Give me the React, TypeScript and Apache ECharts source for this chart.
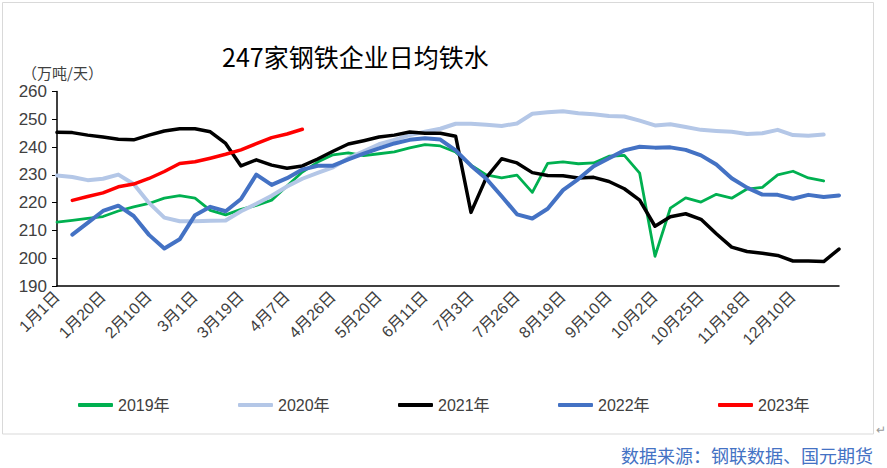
import React, { useEffect, useRef } from "react";
import * as echarts from "echarts";

const categories = [
  "1月1日", "1月8日", "1月14日", "1月20日", "1月27日", "2月3日", "2月10日", "2月17日", "2月24日", "3月1日",
  "3月7日", "3月13日", "3月19日", "3月25日", "4月1日", "4月7日", "4月14日", "4月20日", "4月26日", "5月6日",
  "5月13日", "5月20日", "5月27日", "6月3日", "6月11日", "6月18日", "6月25日", "7月3日", "7月10日", "7月17日",
  "7月26日", "8月2日", "8月11日", "8月19日", "8月26日", "9月3日", "9月10日", "9月17日", "9月24日", "10月2日",
  "10月11日", "10月18日", "10月25日", "11月2日", "11月11日", "11月18日", "11月25日", "12月3日", "12月10日", "12月17日",
  "12月24日", "12月31日",
];

const y2019 = [
  213, 213.6, 214.3, 215, 217, 218.5, 219.7, 221.6, 222.5, 221.6,
  217.2, 215.6, 217.6, 219, 220.9, 226, 231, 234.6, 237.2, 237.9,
  236.9, 237.6, 238.3, 239.7, 240.9, 240.4, 238.2, 233.5, 230, 228.9,
  229.9, 223.7, 234.1, 234.7, 234, 234.3, 236.7, 237, 230.6, 200.7,
  218, 221.7, 220.2, 223, 221.6, 224.9, 225.5, 230, 231.3, 228.9,
  227.8, null,
];

const y2020 = [
  229.8, 229.2, 228.1, 228.6, 230.1, 226.7, 219.9, 214.6, 213.3, 213.3,
  213.5, 213.6, 216.9, 219.6, 222.5, 225.8, 228.6, 230.7, 232.7, 236,
  238.5, 241, 242.6, 244.3, 245.5, 246.6, 248.4, 248.4, 248, 247.6,
  248.5, 252, 252.5, 252.9, 252.2, 251.8, 251.2, 251, 249.5, 247.8,
  248.2, 247.2, 246.2, 245.8, 245.5, 244.7, 245, 246.2, 244.3, 244.1,
  244.5, null,
];

const y2021 = [
  245.3, 245.2, 244.3, 243.6, 242.8, 242.6, 244.3, 245.8, 246.6, 246.6,
  245.5, 241.3, 233.2, 235.4, 233.5, 232.4, 233.2, 235.7, 238.5, 241.1,
  242.3, 243.6, 244.3, 245.4, 245, 245, 243.9, 216.5, 229, 235.8,
  234.3, 230.8, 229.8, 229.7, 228.9, 229.1, 227.6, 225, 220.9, 211.5,
  214.9, 216, 214, 208.8, 204, 202.4, 201.8, 201, 199, 199,
  198.8, 203.3,
];

const y2022 = [
  null, 208.5, 212.7, 217, 218.9, 215.2, 208.4, 203.5, 206.8, 215.5,
  218.5, 216.9, 221.3, 230.1, 226.4, 228.8, 231.9, 233.3, 233.3, 235.6,
  237.6, 239.5, 241.3, 242.6, 243.2, 242.7, 238.8, 233.3, 228.6, 222.3,
  215.8, 214.3, 217.8, 224.5, 228.5, 233.1, 236, 238.8, 240.1, 239.8,
  239.9, 239, 237, 233.7, 228.8, 225.4, 222.9, 222.8, 221.4, 222.8,
  222, 222.6,
];

const y2023 = [
  null, 220.8, 222.2, 223.5, 225.7, 226.7, 228.7, 231.2, 234.1, 234.7,
  236, 237.4, 239, 241.2, 243.4, 244.7, 246.4,
];

const seriesNames = ["2019年", "2020年", "2021年", "2022年", "2023年"];
const yMin = 190;
const yMax = 260;
const yStep = 10;
const labelEvery = 3;
const lastLabelIndex = 48;

const FONT = "'Liberation Sans', Arial, 'Noto Sans CJK SC', sans-serif";
const CJK = "'Noto Sans CJK SC', 'Liberation Sans', sans-serif";

export default function App() {
  const ref = useRef<HTMLDivElement>(null);

  useEffect(() => {
    if (!ref.current) return;
    const chart = echarts.init(ref.current, null, { renderer: "svg" });

    const colors = ["#00B050", "#B4C7E7", "#000000", "#4472C4", "#FF0000"];
    const widths = [2.8, 4, 3.5, 4, 3.5];
    const datas = [y2019, y2020, y2021, y2022, y2023];
    const legendLefts = [73, 233, 393, 553, 713];

    chart.setOption({
      animation: false,
      backgroundColor: "#ffffff",
      textStyle: { fontFamily: FONT },
      title: {
        text: "247家钢铁企业日均铁水",
        left: 217,
        top: 38,
        textStyle: { fontSize: 25, fontWeight: "normal", color: "#000000", fontFamily: CJK },
      },
      grid: { left: 57, right: 48, top: 91.5, bottom: 182, containLabel: false },
      xAxis: {
        type: "category",
        data: categories,
        boundaryGap: false,
        axisLine: { show: true, lineStyle: { color: "#000000", width: 1.5 } },
        axisTick: { show: false },
        splitLine: { show: false },
        axisLabel: {
          interval: (idx: number) => idx % labelEvery === 0 && idx <= lastLabelIndex,
          rotate: 45,
          fontSize: 16,
          color: "#404040",
          margin: 8,
          fontFamily: FONT,
        },
      },
      yAxis: {
        type: "value",
        min: yMin,
        max: yMax,
        interval: yStep,
        axisLine: { show: true, lineStyle: { color: "#000000", width: 1.5 } },
        axisTick: { show: true, length: 5, lineStyle: { color: "#000000" } },
        splitLine: { show: false },
        axisLabel: { fontSize: 17, color: "#404040", margin: 10, fontFamily: FONT },
      },
      legend: seriesNames.map((n, i) => ({
        data: [n],
        left: legendLefts[i],
        top: 392,
        icon: "roundRect",
        itemWidth: 35,
        itemHeight: 4,
        textStyle: { fontSize: 16, color: "#404040", fontFamily: FONT },
      })),
      series: seriesNames.map((n, i) => ({
        name: n,
        type: "line",
        data: datas[i],
        symbol: "none",
        connectNulls: false,
        lineStyle: { color: colors[i], width: widths[i], cap: "round", join: "round" },
        itemStyle: { color: colors[i] },
        z: 2 + i,
      })),
      graphic: [
        {
          type: "rect",
          silent: true,
          z: -10,
          shape: { x: 2.5, y: 2.5, width: 871, height: 431.5 },
          style: { fill: "none", stroke: "#d9d9d9", lineWidth: 1 },
        },
        {
          type: "text",
          x: 22,
          y: 72,
          style: {
            text: "（万吨/天）",
            fontSize: 15,
            fill: "#404040",
            fontFamily: CJK,
            verticalAlign: "middle",
          },
        },
        {
          type: "text",
          x: 873,
          y: 455,
          style: {
            text: "数据来源：钢联数据、国元期货",
            fontSize: 18,
            fill: "#4472C4",
            fontFamily: CJK,
            align: "right",
            verticalAlign: "middle",
          },
        },
        {
          type: "text",
          x: 876,
          y: 428,
          style: {
            text: "↵",
            fontSize: 12,
            fill: "#9a9a9a",
            fontFamily: CJK,
            verticalAlign: "middle",
          },
        },
      ],
    });

    return () => chart.dispose();
  }, []);

  return (
    <div
      ref={ref}
      style={{ position: "absolute", left: 0, top: 0, width: 887, height: 468, background: "#fff" }}
    />
  );
}
